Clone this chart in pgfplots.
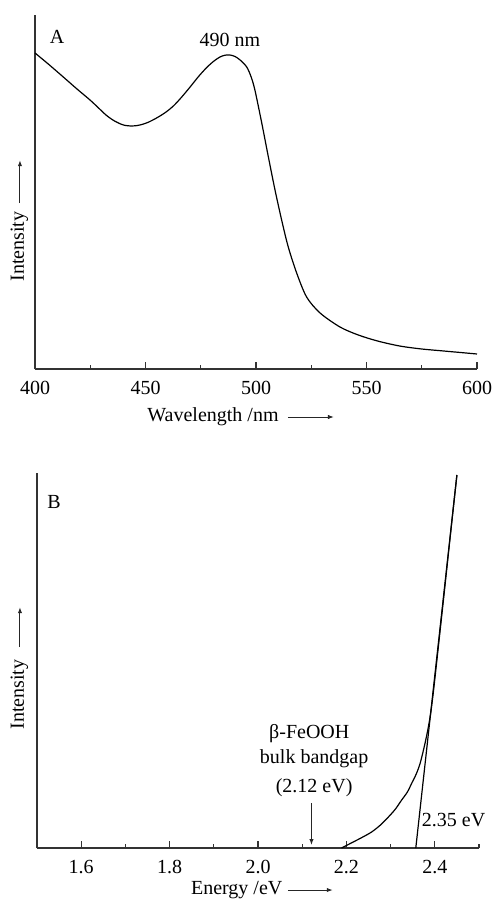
\documentclass[border=0pt]{standalone}
\usepackage{fontspec}
\setmainfont{Liberation Serif}
\usepackage{pgfplots}
\pgfplotsset{compat=1.18}
\usetikzlibrary{arrows.meta}

\pgfplotsset{
  specaxis/.style={
    scale only axis, clip=false,
    axis x line=bottom, axis y line=left,
    axis line style={-, line width=0.8pt, draw=black!80},
    ytick=\empty,
    tick align=inside,
    major tick length=3.5pt, minor tick length=2pt,
    every tick/.style={black!80, line width=0.6pt},
    ticklabel style={font=\fontsize{10}{12}\selectfont},
    xticklabel style={anchor=base, yshift=-12.5pt},
    /pgf/number format/assume math mode=true,
    ymin=0,
  },
  specline/.style={black, line width=0.6pt, smooth, tension=0.5, no markers},
}
\tikzset{
  lbl/.style={font=\fontsize{10}{12}\selectfont, inner sep=0pt},
  smallarrow/.style={-{Latex[length=3pt,width=2.2pt]}, line width=0.5pt, black!85},
}

\begin{document}
\begin{tikzpicture}
  \useasboundingbox (0,0) rectangle (246.5pt,-449.5pt);

  % panel A
  \begin{axis}[specaxis, at={(17.5pt,-184.5pt)}, anchor=south west,
    width=221pt, height=177pt,
    xmin=400, xmax=600, ymax=354,
    xtick={400,450,500,550,600},
    minor xtick={425,475,525,575}]
    \addplot[specline] coordinates {
      (400,316) (406,305) (412.8,292) (419,280) (424.9,269) (429,260.5)
      (432.4,253.5) (436,248) (440,244) (444,243) (447.5,244) (451,246.5)
      (455,251) (459,256.5) (462.6,263) (466,271) (470,281.5) (474,292.5)
      (477.7,301.5) (481,308) (483.7,312) (486,313.8) (488.2,314)
      (490.5,312.5) (492.8,309) (495.8,302) (497.8,292) (499.5,279)
      (502.6,246) (505.6,212) (508.6,179) (511.6,149) (514.6,122)
      (518.4,96) (522.9,72) (529,56) (538,42) (546.3,34) (555,28)
      (565,23) (575,20) (585,18) (600,15)
    };
    \node[lbl] at (axis cs:410,332) {A};
    \node[lbl] at (axis cs:488.2,329) {490 nm};
    \node[lbl, anchor=base west] (wl) at (axis cs:450.7,-52) {Wavelength /nm};
    \node[lbl, rotate=90, anchor=base west] (ia) at (axis cs:395,87) {Intensity};
  \end{axis}
  \draw[smallarrow] ([xshift=4.5pt,yshift=2pt]wl.base east) -- ++(23pt,0);
  \draw[smallarrow] ([xshift=-2pt,yshift=4pt]ia.base east) -- ++(0,21.5pt);

  % panel B
  \begin{axis}[specaxis, at={(18.5pt,-424pt)}, anchor=south west,
    width=221pt, height=187.5pt,
    xmin=1.5, xmax=2.5, ymax=375,
    xtick={1.6,1.8,2.0,2.2,2.4},
    xticklabels={1.6,1.8,2.0,2.2,2.4},
    minor xtick={1.5,1.7,1.9,2.1,2.3,2.5}]
    \addplot[specline] coordinates {
      (2.189,0) (2.211,5) (2.235,10.5) (2.257,16) (2.277,23) (2.295,31)
      (2.311,39) (2.325,48) (2.338,56) (2.348,65) (2.358,74) (2.367,85)
      (2.377,103) (2.385,120) (2.391,136) (2.397,157) (2.404,185)
      (2.42,250) (2.435,312) (2.45,373)
    };
    \addplot[black, line width=0.6pt, no markers] coordinates {(2.357,0) (2.45,373)};
    \node[lbl] at (axis cs:1.5385,346) {B};
    \node[lbl, anchor=base] at (axis cs:2.116,110) {β-FeOOH};
    \node[lbl, anchor=base] at (axis cs:2.127,85) {bulk bandgap};
    \node[lbl, anchor=base] at (axis cs:2.127,56) {(2.12 eV)};
    \draw[smallarrow] (axis cs:2.121,45) -- (axis cs:2.121,3);
    \node[lbl, anchor=base west] at (axis cs:2.37,22) {2.35 eV};
    \node[lbl, anchor=base west] (en) at (axis cs:1.8477,-46) {Energy /eV};
    \node[lbl, rotate=90, anchor=base west] (ib) at (axis cs:1.4705,118) {Intensity};
  \end{axis}
  \draw[smallarrow] ([xshift=2.5pt,yshift=2pt]en.base east) -- ++(22.5pt,0);
  \draw[smallarrow] ([xshift=-2pt,yshift=6pt]ib.base east) -- ++(0,20pt);
\end{tikzpicture}
\end{document}
